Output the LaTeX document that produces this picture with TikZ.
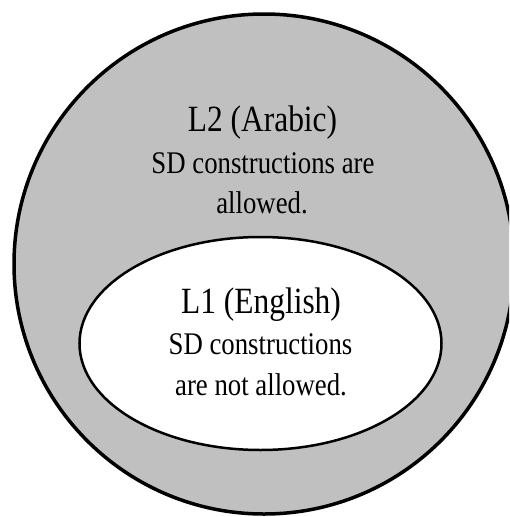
\documentclass[tikz,border=0pt]{standalone}
\usepackage{fontspec}
\setmainfont{Liberation Serif}
\begin{document}
\begin{tikzpicture}[x=1pt,y=-1pt,
  title/.style={font=\fontsize{37}{44}\selectfont, anchor=base, inner sep=0pt, xscale=0.85},
  body/.style={font=\fontsize{31.5}{38}\selectfont, anchor=base, inner sep=0pt, xscale=0.85}]
\useasboundingbox (0,0) rectangle (509,517);
\definecolor{setgray}{RGB}{192,192,192}
\begin{scope}
\clip (0,0) rectangle (509,517);
\draw[line width=3.5pt, fill=setgray] (264,264) circle [radius=250];
\end{scope}
\draw[line width=2.5pt, fill=white] (260.5,343.5) ellipse [x radius=181, y radius=106.5];
\node[title] (l2) at (262.5,131.7) {L2 (Arabic)};
\node[body] (l2a) at (263,173.3) {SD constructions are};
\node[body] (l2b) at (262,213) {allowed.};
\node[title] (l1) at (261,313) {L1 (English)};
\node[body] (l1a) at (260.5,354) {SD constructions};
\node[body] (l1b) at (261,395) {are not allowed.};
\end{tikzpicture}
\end{document}
